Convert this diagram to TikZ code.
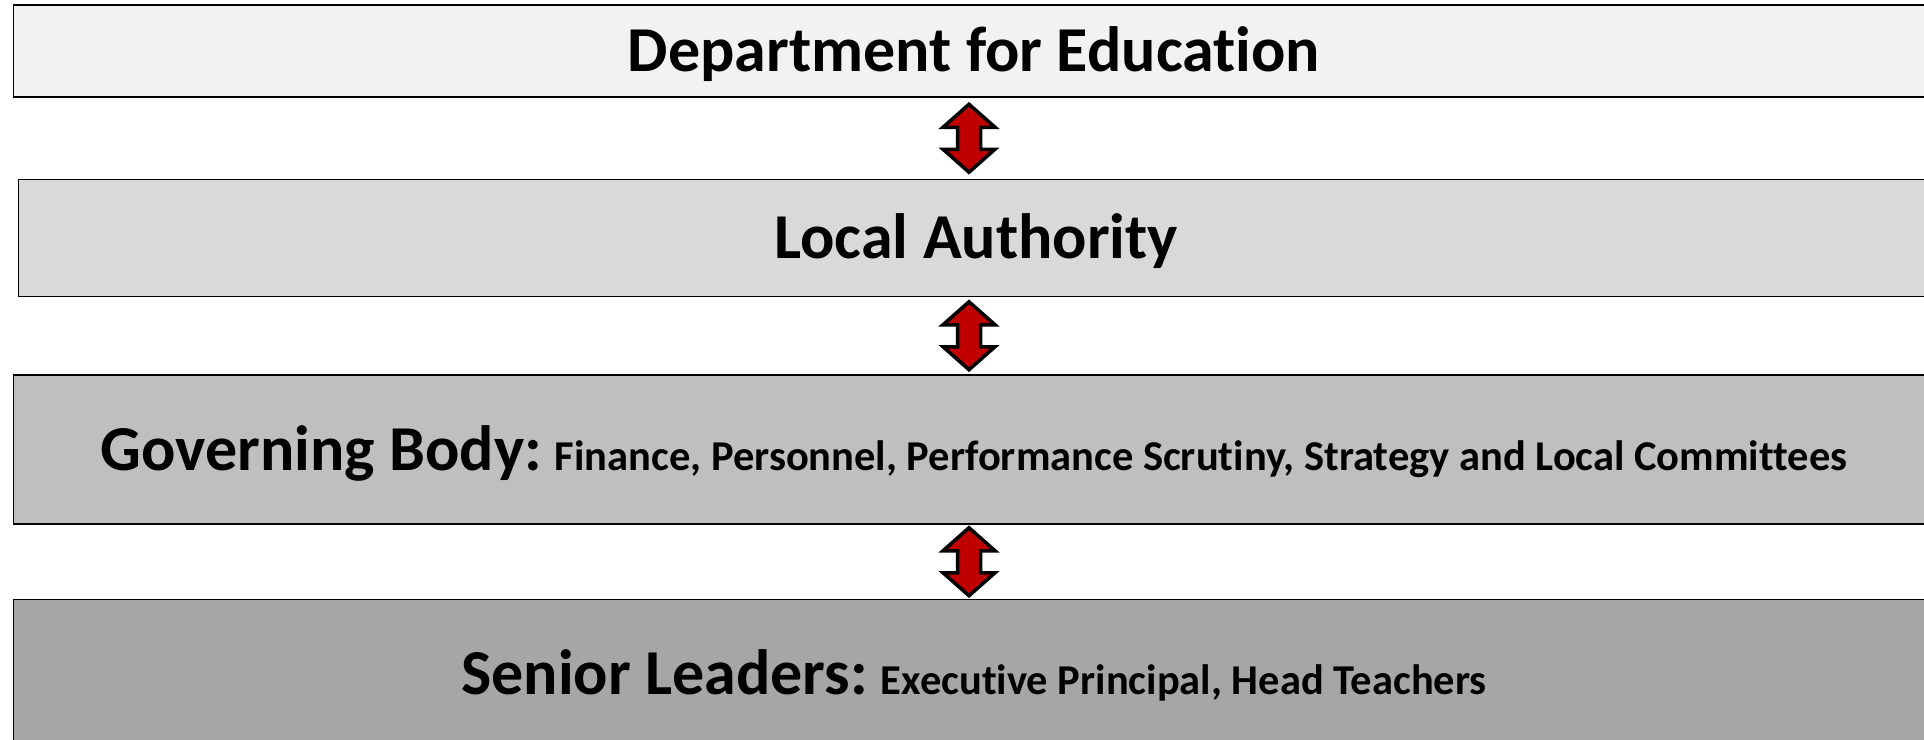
\documentclass[tikz,border=0pt]{standalone}
\usepackage{fontspec}
\setmainfont[Ligatures=NoCommon]{Carlito}
\usetikzlibrary{positioning,calc}
\definecolor{tier1}{HTML}{F2F2F2}
\definecolor{tier2}{HTML}{D9D9D9}
\definecolor{tier3}{HTML}{BFBFBF}
\definecolor{tier4}{HTML}{A6A6A6}
\definecolor{linkred}{HTML}{C00000}
\newcommand\detail[1]{{\fontsize{42.5}{46}\selectfont #1}}
\begin{document}
\begin{tikzpicture}
[ x=1pt, y=-1pt
, tier/.style={rectangle, draw, line width=1.5pt, minimum width=1921pt, inner sep=0pt, text height=41pt, text depth=0pt, font=\bfseries\fontsize{64}{70}\selectfont}
, updown/.style={draw=black, fill=linkred, line width=3.5pt, line join=miter, to path={
    let \p3=($(\tikztostart.south)!.5!(\tikztotarget.north)$) in
    (969pt,\y3+34pt) -- (995pt,\y3+11pt) -- (980.5pt,\y3+11pt) -- (980.5pt,\y3-11pt)
    -- (995pt,\y3-11pt) -- (969pt,\y3-34pt) -- (943pt,\y3-11pt) -- (957.5pt,\y3-11pt)
    -- (957.5pt,\y3+11pt) -- (943pt,\y3+11pt) -- cycle}}
]
\clip (0,0) rectangle (1924,739);
\fill[white] (0,0) rectangle (1924,739);
% The four tiers:
\node (dfe) [tier, fill=tier1, minimum height=92pt] at (974,51) {Department for Education};
\node (la) [tier, fill=tier2, minimum height=117pt, minimum width=1916pt, below=81pt of dfe, xshift=2.25pt] {Local Authority};
\node (gb) [tier, fill=tier3, minimum height=149pt, below=77pt of la, xshift=-2.25pt] {Governing Body:\detail{ Finance, Personnel, Performance Scrutiny, Strategy and Local Committees}};
\node (sl) [tier, fill=tier4, minimum height=148pt, below=74pt of gb] {Senior Leaders:\detail{ Executive Principal, Head Teachers}};
% Links between tiers:
\draw [updown] (dfe) to (la);
\draw [updown] (la) to (gb);
\draw [updown] (gb) to (sl);
\end{tikzpicture}
\end{document}
